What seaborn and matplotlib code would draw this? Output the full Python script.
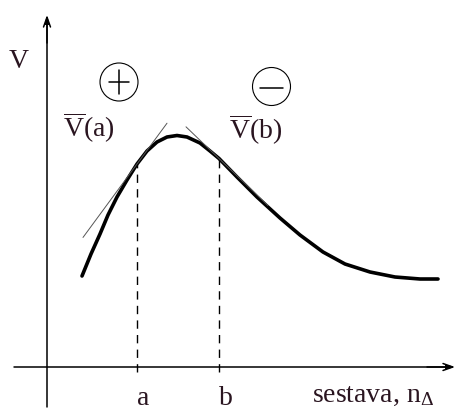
import matplotlib
matplotlib.use("Agg")
import matplotlib.pyplot as plt
from matplotlib.patches import Circle
import numpy as np
import pandas as pd
import seaborn as sns

# Mean value curve V(n) over the assembly size n_delta
n_values = [3.5, 4.4, 5.3, 6.1, 7.0, 8.0, 9.0, 10.0, 11.0, 12.0, 13.0, 14.0,
            15.3, 16.3, 17.2, 19.0, 21.0, 23.3, 25.3, 27.6, 29.8, 32.3, 34.8,
            37.3, 39.1]
v_values = [9.1, 11.3, 13.3, 15.2, 17.0, 18.7, 20.3, 21.6, 22.5, 23.0, 23.15,
            23.0, 22.4, 21.6, 20.85, 19.0, 17.0, 14.9, 13.2, 11.5, 10.3, 9.5,
            9.0, 8.8, 8.8]

# Two reference points with their tangent slopes
point_labels = ["a", "b"]
point_n = [9.0, 17.2]
point_v = [20.3, 20.85]
tangent_slopes = [1.36, -0.96]
tangent_spans = [(3.6, 12.0), (13.9, 22.1)]
value_labels = [r"$\overline{\mathrm{V}}$(a)", r"$\overline{\mathrm{V}}$(b)"]
sign_labels = ["+", "-"]

x_label = r"sestava, n$_{\Delta}$"
y_label = "V"

sns.set_style("white")
plt.rcParams["font.family"] = ["Liberation Serif", "DejaVu Serif"]
plt.rcParams["mathtext.fontset"] = "custom"
plt.rcParams["mathtext.rm"] = "Liberation Serif"
plt.rcParams["mathtext.it"] = "Liberation Serif:italic"

text_color = "#2a1520"

fig = plt.figure(figsize=(4.6, 4.12), dpi=100)
ax = fig.add_axes([0, 0, 1, 1])
ax.set_xlim(-4.7, 41.3)
ax.set_ylim(-4.5, 36.7)
ax.axis("off")

# Coordinate axes with open arrow heads and a small solid tip
arrow = dict(arrowstyle="->,head_length=0.7,head_width=0.25", lw=1.1,
             color="black", shrinkA=0, shrinkB=0)
tip = dict(arrowstyle="-|>,head_length=0.45,head_width=0.12", lw=1.1,
           color="black", shrinkA=0, shrinkB=0)
ax.annotate("", xy=(40.8, 0), xytext=(-3.3, 0), arrowprops=arrow)
ax.annotate("", xy=(0, 35.2), xytext=(0, -4.0), arrowprops=arrow)
ax.annotate("", xy=(40.8, 0), xytext=(38.0, 0), arrowprops=tip)
ax.annotate("", xy=(0, 35.2), xytext=(0, 32.4), arrowprops=tip)

# Main curve
df = pd.DataFrame({"n": n_values, "V": v_values})
sns.lineplot(data=df, x="n", y="V", sort=False, estimator=None,
             color="black", lw=2.6, ax=ax)

# Tangents and dashed drop lines at a and b
for pn, pv, k, (x0, x1) in zip(point_n, point_v, tangent_slopes, tangent_spans):
    xs = np.array([x0, x1])
    ax.plot(xs, pv + k * (xs - pn), color="#555555", lw=0.7)
    ax.plot([pn, pn], [-0.5, pv], color="black", lw=1.0,
            dashes=(6, 4.5))

# Labels at the axis
for lab, pn in zip(point_labels, point_n):
    ax.text(pn, -3.8, lab, fontsize=20, color=text_color,
            ha="left", va="baseline")
ax.text(26.5, -3.5, x_label, fontsize=20, color=text_color,
        ha="left", va="baseline")
ax.text(-2.8, 29.9, y_label, fontsize=20, color=text_color,
        ha="center", va="baseline")

# Value labels
ax.text(1.6, 23.0, value_labels[0], fontsize=20, color=text_color,
        ha="left", va="baseline")
ax.text(18.2, 22.8, value_labels[1], fontsize=20, color=text_color,
        ha="left", va="baseline")

# Circled signs: growth (+) before the maximum, decline (-) after it
sign_centers = [(7.2, 28.5), (22.45, 28.05)]
for (cx, cy), s in zip(sign_centers, sign_labels):
    ax.add_patch(Circle((cx, cy), 1.9, fill=False, lw=0.8, color="black"))
    if s == "+":
        ax.plot([cx - 0.95, cx + 0.95], [cy, cy], color="black", lw=1.1)
        ax.plot([cx, cx], [cy - 1.2, cy + 1.2], color="black", lw=1.1)
    else:
        ax.plot([cx - 1.1, cx + 1.1], [cy - 0.1, cy - 0.1], color="black",
                lw=1.1)

fig.savefig("out.png", dpi=100, facecolor="white")
